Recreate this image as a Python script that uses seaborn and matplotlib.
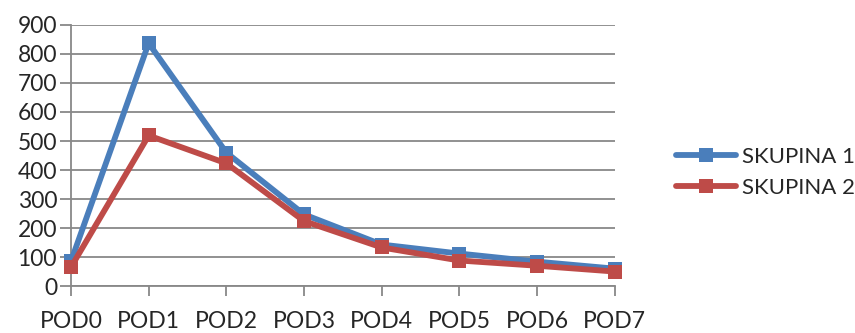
import matplotlib
matplotlib.use("Agg")
import matplotlib.pyplot as plt
import seaborn as sns
import pandas as pd

categories = ["POD0", "POD1", "POD2", "POD3", "POD4", "POD5", "POD6", "POD7"]
skupina_1 = [85, 837, 460, 247, 143, 112, 84, 60]
skupina_2 = [65, 519, 423, 224, 133, 88, 70, 50]
series_names = ["SKUPINA 1", "SKUPINA 2"]
colors = ["#4A7EBB", "#BE4B48"]

sns.set_style("white")
plt.rcParams["font.family"] = ["Lato", "DejaVu Sans"]

df = pd.DataFrame({
    "pos": list(range(len(categories))) * 2,
    "value": skupina_1 + skupina_2,
    "series": [series_names[0]] * len(categories) + [series_names[1]] * len(categories),
})

fig = plt.figure(figsize=(8.55, 3.33), dpi=100)
ax = fig.add_axes([0.083, 0.141, 0.636, 0.784])

sns.lineplot(data=df, x="pos", y="value", hue="series", palette=colors,
             marker="s", markersize=9.5, markeredgewidth=0, linewidth=4.2,
             ax=ax, clip_on=False, zorder=3)

ax.set_xlim(0, 7)
ax.set_ylim(0, 900)
ax.set_yticks(range(0, 901, 100))
ax.set_xticks(range(len(categories)))
ax.set_xticklabels(categories)
ax.set_xlabel("")
ax.set_ylabel("")

grid_c = "#888888"
ax.yaxis.grid(True, color=grid_c, linewidth=1.3)
ax.xaxis.grid(False)
for s in ["top", "right"]:
    ax.spines[s].set_visible(False)
for s in ["left", "bottom"]:
    ax.spines[s].set_color(grid_c)
    ax.spines[s].set_linewidth(1.3)
ax.tick_params(axis="y", length=8, width=1.3, color=grid_c, labelsize=16.5, pad=2, left=True)
ax.tick_params(axis="x", length=7, width=1.3, color=grid_c, labelsize=16.5, pad=11, bottom=True)

leg = ax.legend(loc="center left", bbox_to_anchor=(1.075, 0.435), frameon=False,
                fontsize=16, handlelength=2.7, handletextpad=0.3, labelspacing=0.5)
for line in leg.get_lines():
    line.set_linewidth(4.2)
    line.set_markersize(9.5)

fig.savefig("out.png", dpi=100)
